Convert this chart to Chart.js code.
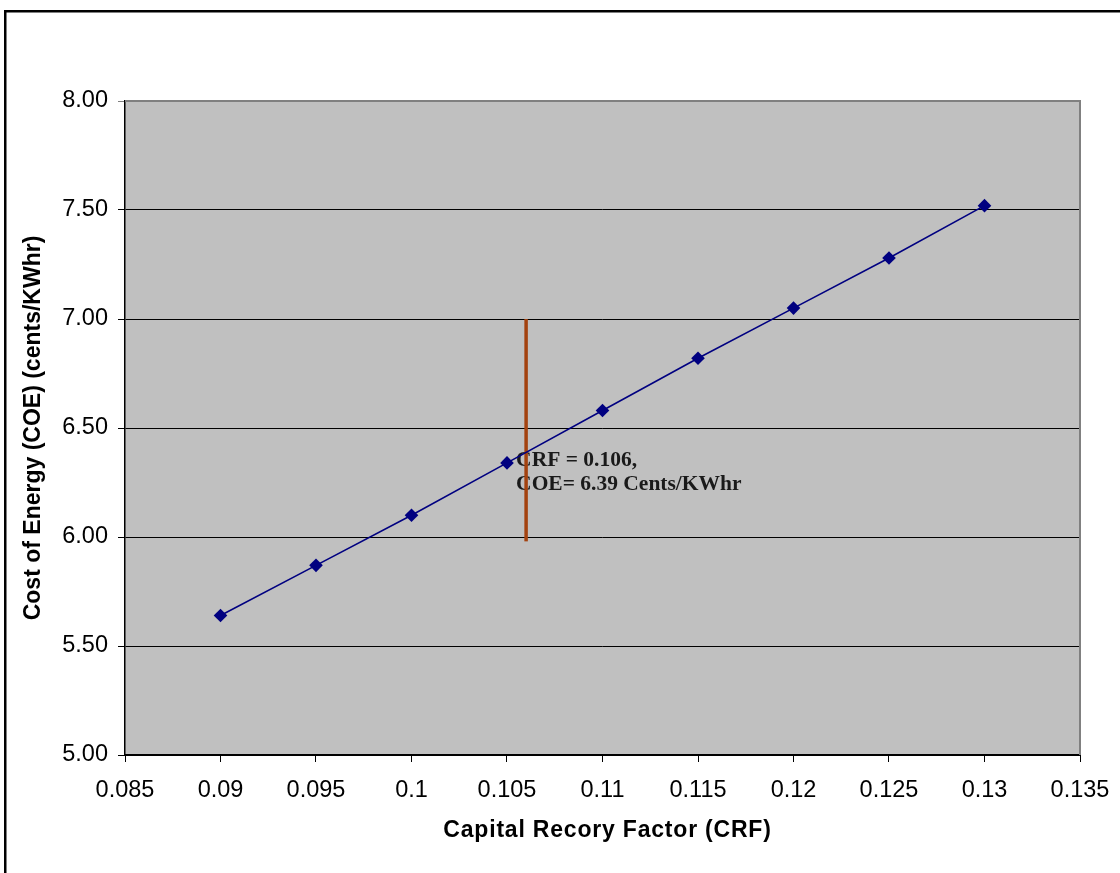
<!DOCTYPE html>
<html>
<head>
<meta charset="utf-8">
<title>Capital Recovery Factor vs Cost of Energy</title>
<script src="https://cdn.jsdelivr.net/npm/chart.js@4/dist/chart.umd.min.js"></script>
<style>
  html, body { margin: 0; padding: 0; background: #ffffff; }
  #wrap { width: 1120px; height: 873px; position: relative; }
</style>
</head>
<body>
<div id="wrap"><canvas id="chart" width="1120" height="873"></canvas></div>
<script>
// Capital recovery factor values and the resulting cost of energy (cents/KWhr)
const crfValues = [0.09, 0.095, 0.1, 0.105, 0.11, 0.115, 0.12, 0.125, 0.13];
const coeValues = [5.64, 5.87, 6.10, 6.34, 6.58, 6.82, 7.05, 7.28, 7.52];

// Marker line at the selected design point
const markerCrf = [0.106, 0.106];
const markerCoe = [5.98, 7.00];
const markerLabel = ['CRF = 0.106,', 'COE= 6.39 Cents/KWhr'];

// Axis tick labels
const xTickLabels = ['0.085', '0.09', '0.095', '0.1', '0.105', '0.11', '0.115', '0.12', '0.125', '0.13', '0.135'];
const yTickLabels = ['5.00', '5.50', '6.00', '6.50', '7.00', '7.50', '8.00'];

const xTitle = 'Capital Recory Factor (CRF)';
const yTitle = 'Cost of Energy (COE) (cents/KWhr)';

const seriesPoints = crfValues.map((x, i) => ({ x: x, y: coeValues[i] }));
const markerPoints = markerCrf.map((x, i) => ({ x: x, y: markerCoe[i] }));

const titleFont = 'bold 23px "Liberation Sans", Arial, sans-serif';

// Grey plot background, annotation, axis titles and the outer frame
const decorPlugin = {
  id: 'decor',
  beforeDraw(chart) {
    const { ctx, chartArea: a } = chart;
    ctx.save();
    ctx.fillStyle = '#ffffff';
    ctx.fillRect(0, 0, chart.width, chart.height);
    ctx.fillStyle = '#C0C0C0';
    ctx.fillRect(a.left, a.top, a.right - a.left, a.bottom - a.top);
    ctx.restore();
  },
  beforeDatasetsDraw(chart) {
    const { ctx } = chart;
    const xs = chart.scales.x, ys = chart.scales.y;
    // annotation text beside the marker line (the line is drawn over it)
    const lx = xs.getPixelForValue(markerCrf[0]) - 10;
    const ly = ys.getPixelForValue(6.39) + 8;
    ctx.save();
    ctx.fillStyle = '#1a1a1a';
    ctx.font = 'bold 21.5px "Liberation Serif", "Times New Roman", serif';
    ctx.textBaseline = 'middle';
    ctx.textAlign = 'left';
    markerLabel.forEach((t, i) => ctx.fillText(t, lx, ly + i * 24));
    ctx.restore();
  },
  afterDatasetsDraw(chart) {
    const { ctx, chartArea: a } = chart;
    ctx.save();
    // right and top edges of the plot area
    ctx.strokeStyle = '#808080';
    ctx.lineWidth = 2;
    ctx.beginPath();
    ctx.moveTo(a.left, a.top);
    ctx.lineTo(a.right, a.top);
    ctx.lineTo(a.right, a.bottom);
    ctx.stroke();

    // axis titles
    ctx.fillStyle = '#000000';
    ctx.font = titleFont;
    ctx.textAlign = 'center';
    ctx.textBaseline = 'middle';
    ctx.letterSpacing = '0.8px';
    ctx.fillText(xTitle, (a.left + a.right) / 2 + 5, 831);
    ctx.letterSpacing = '0px';
    ctx.save();
    ctx.translate(34, (a.top + a.bottom) / 2);
    ctx.rotate(-Math.PI / 2);
    ctx.fillText(yTitle, 0, 0);
    ctx.restore();

    // outer frame
    ctx.strokeStyle = '#000000';
    ctx.lineWidth = 2.5;
    ctx.strokeRect(5.25, 11.25, chart.width + 20, chart.height + 20);
    ctx.restore();
  }
};

new Chart(document.getElementById('chart'), {
  type: 'scatter',
  data: {
    datasets: [
      {
        label: 'COE',
        data: seriesPoints,
        showLine: true,
        borderColor: '#000080',
        borderWidth: 1.6,
        backgroundColor: '#000080',
        pointStyle: 'rectRot',
        pointRadius: 6.8,
        pointHoverRadius: 6.8,
        pointBorderWidth: 0,
        order: 1
      },
      {
        label: 'Design point',
        data: markerPoints,
        showLine: true,
        borderColor: '#A3420F',
        borderWidth: 3.5,
        pointRadius: 0,
        order: 2
      }
    ]
  },
  plugins: [decorPlugin],
  options: {
    responsive: false,
    animation: false,
    devicePixelRatio: 1,
    layout: { padding: { top: 101, right: 40, bottom: 0, left: 0 } },
    plugins: {
      legend: { display: false },
      tooltip: { enabled: false }
    },
    scales: {
      x: {
        type: 'linear',
        min: 0.085,
        max: 0.135,
        afterBuildTicks(scale) {
          scale.ticks = xTickLabels.map(s => ({ value: parseFloat(s) }));
        },
        afterFit(scale) {
          scale.height = 118;
          scale.paddingLeft = 0;
          scale.paddingRight = 0;
        },
        ticks: {
          autoSkip: false,
          maxRotation: 0,
          padding: 14,
          color: '#000000',
          font: { family: '"Liberation Sans", Arial, sans-serif', size: 23.5 },
          callback: (v, i) => xTickLabels[i]
        },
        grid: {
          drawOnChartArea: false,
          drawTicks: true,
          tickLength: 7,
          color: '#000000',
          lineWidth: 1
        },
        border: { display: true, color: '#000000', width: 2 },
        title: { display: false }
      },
      y: {
        type: 'linear',
        min: 5,
        max: 8,
        afterBuildTicks(scale) {
          scale.ticks = yTickLabels.map(s => ({ value: parseFloat(s) }));
        },
        afterFit(scale) {
          scale.width = 125;
          scale.paddingTop = 0;
          scale.paddingBottom = 0;
        },
        ticks: {
          autoSkip: false,
          padding: 10,
          color: '#000000',
          font: { family: '"Liberation Sans", Arial, sans-serif', size: 23.5 },
          callback: (v, i) => yTickLabels[i]
        },
        grid: {
          drawOnChartArea: true,
          drawTicks: true,
          tickLength: 7,
          color: (c) => (c.tick && c.tick.value === 8 ? '#808080' : '#000000'),
          lineWidth: 1
        },
        border: { display: true, color: '#000000', width: 1.5 },
        title: { display: false }
      }
    }
  }
});
</script>
</body>
</html>
